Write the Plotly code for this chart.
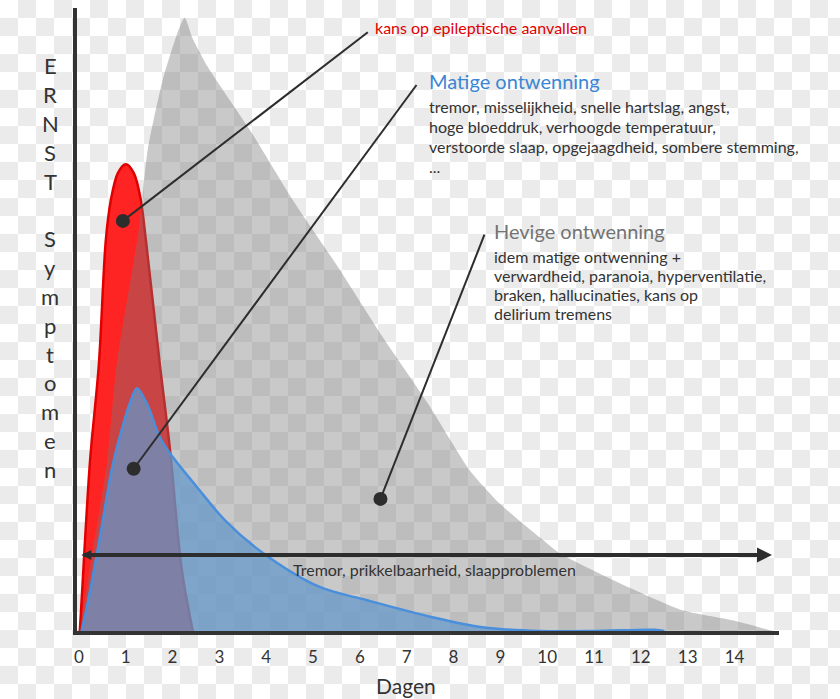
import base64
import plotly.graph_objects as go

# ---------------- data (days, severity 0-100) ----------------
grey_days = [0.02, 0.30, 0.60, 0.81, 1.28, 1.47, 1.79, 2.12, 2.26, 2.43, 2.75, 3.69, 4.57,
             5.53, 6.49, 7.45, 8.34, 8.98, 9.84, 10.26, 11.55, 12.89, 13.96, 14.81]
grey_sev = [0.0, 12.9, 26.7, 42.6, 63.8, 76.5, 87.6, 95.4, 97.5, 94.2, 89.7, 79.2, 68.5,
            57.9, 46.7, 36.2, 25.6, 20.3, 14.9, 12.4, 7.6, 3.3, 1.7, 0.0]

red_days = [0.02, 0.06, 0.235, 0.427, 0.576, 0.683, 0.832, 1.003, 1.174, 1.323, 1.43,
            1.729, 1.942, 2.198, 2.433]
red_sev = [0.0, 5.0, 26.7, 42.4, 62.2, 68.5, 72.8, 74.2, 72.8, 68.5, 62.2,
           42.4, 29.1, 9.7, 0.0]

blue_days = [0.06, 0.19, 0.45, 0.70, 0.87, 1.09, 1.24, 1.45, 1.73, 1.94, 2.52, 3.12,
             3.93, 5.14, 6.15, 7.55, 8.62, 9.84, 11.0, 12.3, 12.5]
blue_sev = [0.0, 4.5, 14.9, 25.6, 30.8, 36.2, 38.6, 36.2, 30.8, 28.3, 22.9, 17.6,
            12.4, 7.0, 4.9, 2.2, 0.6, 0.0, 0.0, 0.2, 0.0]

tick_days = list(range(0, 15))
tick_labels = [str(d) for d in tick_days]

# callouts: dot position and line end, in (day, severity)
callout_dot_days = [0.94, 1.17, 6.44]
callout_dot_sev = [65.2, 25.8, 21.0]
callout_end_days = [6.17, 7.21, 8.66]
callout_end_sev = [95.2, 86.8, 63.0]

arrow_start_day, arrow_end_day, arrow_sev = 0.02, 14.8, 12.1

y_letters = ["E", "R", "N", "S", "T", "", "S", "y", "m", "p", "t", "o", "m", "e", "n"]

red_label = "kans op epileptische aanvallen"
matig_title = "Matige ontwenning"
matig_lines = ["tremor, misselijkheid, snelle hartslag, angst,",
               "hoge bloeddruk, verhoogde temperatuur,",
               "verstoorde slaap, opgejaagdheid, sombere stemming,",
               "..."]
hevig_title = "Hevige ontwenning"
hevig_lines = ["idem matige ontwenning +",
               "verwardheid, paranoia, hyperventilatie,",
               "braken, hallucinaties, kans op",
               "delirium tremens"]
tremor_label = "Tremor, prikkelbaarheid, slaapproblemen"

FONT = "Lato, 'Open Sans', sans-serif"
DARK = "#333333"

# page body has an 8px margin: build the figure so that it lands on the 840x699 window
OFF = 8
W, H = 840 - OFF, 699 - OFF
ML, MR, MT, MB = 69, 61, 0, 68
PW, PH = W - ML - MR, H - MT - MB
YTOP = (631 - OFF) / 6.29


def px(x):
    return (x - OFF - ML) / PW


def py(y):
    return (H - MB - (y - OFF)) / PH


# transparent-background checkerboard
CELL = 18
svg = (
    f'<svg xmlns="http://www.w3.org/2000/svg" width="{W}" height="{H}">'
    f'<defs><pattern id="p" x="{-OFF}" y="{-OFF}" width="{2*CELL}" height="{2*CELL}" patternUnits="userSpaceOnUse">'
    f'<rect width="{2*CELL}" height="{2*CELL}" fill="#ffffff"/>'
    f'<rect x="{CELL}" y="0" width="{CELL}" height="{CELL}" fill="#ebebeb"/>'
    f'<rect x="0" y="{CELL}" width="{CELL}" height="{CELL}" fill="#ebebeb"/>'
    f'</pattern></defs><rect width="{W}" height="{H}" fill="url(#p)"/></svg>'
)
svg_uri = "data:image/svg+xml;base64," + base64.b64encode(svg.encode()).decode()

tile = (
    f'<svg xmlns="http://www.w3.org/2000/svg" width="{2*CELL}" height="{2*CELL}">'
    f'<rect width="{2*CELL}" height="{2*CELL}" fill="#ffffff"/>'
    f'<rect x="{CELL}" y="0" width="{CELL}" height="{CELL}" fill="#ebebeb"/>'
    f'<rect x="0" y="{CELL}" width="{CELL}" height="{CELL}" fill="#ebebeb"/></svg>'
)
tile_uri = "data:image/svg+xml;base64," + base64.b64encode(tile.encode()).decode()
page_bg_js = (
    "document.body.style.backgroundImage = 'url(\"" + tile_uri + "\")';"
    "document.body.style.backgroundRepeat = 'repeat';"
    "document.body.style.backgroundPosition = '0 0';"
)

fig = go.Figure()

fig.add_layout_image(dict(source=svg_uri, xref="paper", yref="paper",
                          x=-ML / PW, y=1 + MT / PH, sizex=W / PW, sizey=H / PH,
                          xanchor="left", yanchor="top", sizing="stretch", layer="below"))

fig.add_trace(go.Scatter(
    x=red_days, y=red_sev, mode="lines", fill="tozeroy",
    fillcolor="#ff2424", line=dict(color="#e00000", width=2.5, shape="spline", smoothing=0.9),
    hoverinfo="skip", showlegend=False))

fig.add_trace(go.Scatter(
    x=grey_days, y=grey_sev, mode="lines", fill="tozeroy",
    fillcolor="rgba(120,120,120,0.4)", line=dict(color="rgba(120,120,120,0.0)", width=0,
                                                 shape="spline", smoothing=0.6),
    hoverinfo="skip", showlegend=False))

fig.add_trace(go.Scatter(
    x=blue_days, y=blue_sev, mode="lines", fill="tozeroy",
    fillcolor="rgba(99,151,202,0.72)", line=dict(color="#4a8fdb", width=2.5, shape="spline", smoothing=0.9),
    hoverinfo="skip", showlegend=False))

# callout lines
for d0, s0, d1, s1 in zip(callout_dot_days, callout_dot_sev, callout_end_days, callout_end_sev):
    fig.add_shape(type="line", x0=d0, y0=s0, x1=d1, y1=s1, xref="x", yref="y",
                  line=dict(color="#2d2d2d", width=2))

fig.add_trace(go.Scatter(
    x=callout_dot_days, y=callout_dot_sev, mode="markers",
    marker=dict(color="#2d2d2d", size=14), hoverinfo="skip", showlegend=False))

# double-headed arrow
fig.add_annotation(x=arrow_end_day, y=arrow_sev, ax=arrow_start_day, ay=arrow_sev,
                   xref="x", yref="y", axref="x", ayref="y", text="",
                   showarrow=True, arrowhead=2, startarrowhead=2, arrowside="end+start",
                   arrowsize=0.75, startarrowsize=0.5, arrowwidth=4, arrowcolor="#2d2d2d")

fig.add_annotation(x=px(434), y=py(569), xref="paper", yref="paper", text=tremor_label,
                   showarrow=False, font=dict(family=FONT, size=16, color=DARK),
                   xanchor="center", yanchor="middle")

# texts
fig.add_annotation(x=px(373), y=py(28), xref="paper", yref="paper", text=red_label,
                   showarrow=False, font=dict(family=FONT, size=16, color="#e00000"),
                   xanchor="left", yanchor="middle")

fig.add_annotation(x=px(427), y=py(81), xref="paper", yref="paper", text=matig_title,
                   showarrow=False, font=dict(family=FONT, size=20, color="#3a86d4"),
                   xanchor="left", yanchor="middle")
for i, line in enumerate(matig_lines):
    fig.add_annotation(x=px(427), y=py(106 + 20 * i), xref="paper", yref="paper", text=line,
                       showarrow=False, font=dict(family=FONT, size=16, color=DARK),
                       xanchor="left", yanchor="middle")

fig.add_annotation(x=px(492), y=py(231), xref="paper", yref="paper", text=hevig_title,
                   showarrow=False, font=dict(family=FONT, size=20, color="#737373"),
                   xanchor="left", yanchor="middle")
for i, line in enumerate(hevig_lines):
    fig.add_annotation(x=px(492), y=py(256 + 19 * i), xref="paper", yref="paper", text=line,
                       showarrow=False, font=dict(family=FONT, size=16, color=DARK),
                       xanchor="left", yanchor="middle")

# vertical y label
for i, ch in enumerate(y_letters):
    if ch:
        fig.add_annotation(x=px(50), y=py(66 + 28.8 * i), xref="paper", yref="paper", text=ch,
                           showarrow=False, font=dict(family=FONT, size=22, color=DARK),
                           xanchor="center", yanchor="middle")

fig.add_annotation(x=px(406), y=py(686), xref="paper", yref="paper", text="Dagen",
                   showarrow=False, font=dict(family=FONT, size=21, color=DARK),
                   xanchor="center", yanchor="middle")

fig.update_layout(
    width=W, height=H,
    margin=dict(l=ML, r=MR, t=MT, b=MB, pad=0),
    plot_bgcolor="rgba(0,0,0,0)", paper_bgcolor="white",
    font=dict(family=FONT, color=DARK),
    xaxis=dict(range=[-0.04, 14.95], tickmode="array", tickvals=tick_days, ticktext=tick_labels,
               showgrid=False, zeroline=False, showline=True, linewidth=4, linecolor=DARK,
               ticks="outside", ticklen=8, tickcolor="rgba(0,0,0,0)",
               tickfont=dict(family=FONT, size=17, color=DARK)),
    yaxis=dict(range=[0, YTOP], showgrid=False, zeroline=False, showline=True, linewidth=4,
               linecolor=DARK, showticklabels=False, ticks=""),
)

fig.write_html("out.html", post_script=page_bg_js)
